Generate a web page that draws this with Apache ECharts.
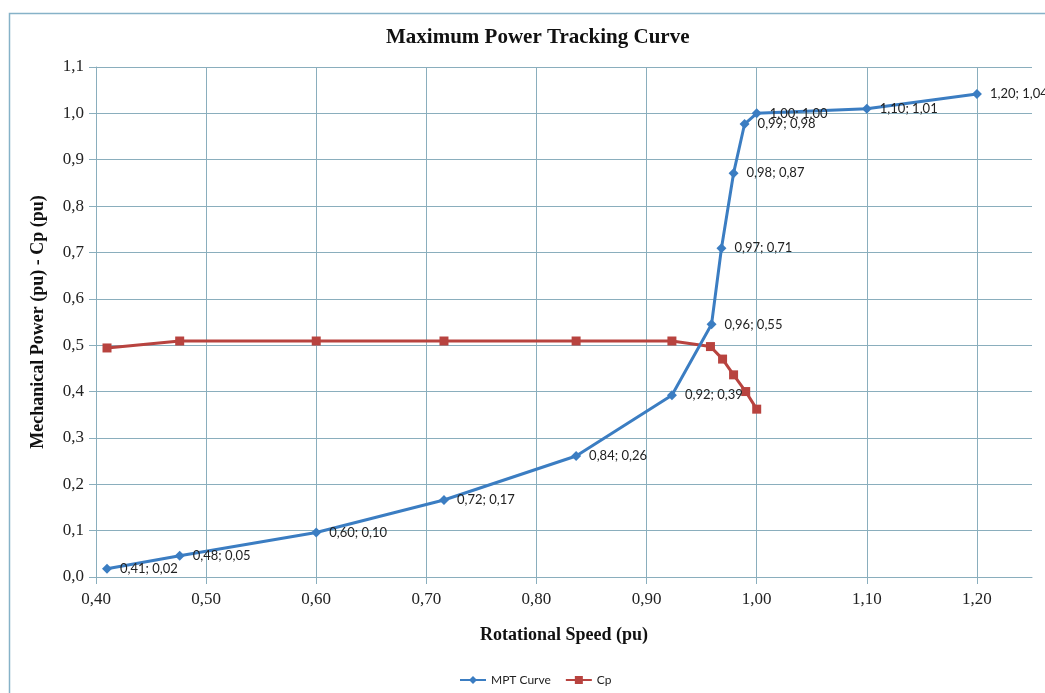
<!DOCTYPE html>
<html>
<head>
<meta charset="utf-8">
<script src="https://cdn.jsdelivr.net/npm/echarts@6/dist/echarts.min.js"></script>
<style>
html,body{margin:0;padding:0;background:#fff;}
#chart{width:1045px;height:693px;}
</style>
</head>
<body>
<div id="chart"></div>
<script>
// Data
const speed = [0.41, 0.476, 0.60, 0.716, 0.836, 0.923, 0.959, 0.968, 0.979, 0.989, 1.00, 1.10, 1.20];
const mptPower = [0.018, 0.046, 0.096, 0.166, 0.261, 0.392, 0.545, 0.709, 0.871, 0.977, 1.00, 1.01, 1.042];
const cpSpeed = [0.41, 0.476, 0.60, 0.716, 0.836, 0.923, 0.958, 0.969, 0.979, 0.990, 1.00];
const cpValues = [0.494, 0.509, 0.509, 0.509, 0.509, 0.509, 0.497, 0.470, 0.436, 0.400, 0.362];
const seriesNames = ['MPT Curve', 'Cp'];
const xTicks = { min: 0.40, max: 1.25, interval: 0.10 };
const yTicks = { min: 0.0, max: 1.1, interval: 0.1 };

const fmt = (v, d) => v.toFixed(d).replace('.', ',');
const mptData = speed.map((x, i) => [x, mptPower[i]]);
const cpData = cpSpeed.map((x, i) => [x, cpValues[i]]);

const gridColor = '#8aaebd';
const serif = '"Liberation Serif", "DejaVu Serif", serif';
const sans = 'Lato, "Open Sans", sans-serif';

const chart = echarts.init(document.getElementById('chart'));
chart.setOption({
  animation: false,
  backgroundColor: '#fff',
  graphic: [{
    type: 'rect', left: 7, top: 11, silent: true, z: -10,
    shape: { width: 1100, height: 720 },
    style: { fill: 'none', stroke: '#86b2c8', lineWidth: 1.5 }
  }],
  title: {
    text: 'Maximum Power Tracking Curve',
    left: 381, top: 22,
    textStyle: { fontFamily: serif, fontWeight: 'bold', fontSize: 21, color: '#111' }
  },
  grid: { left: 96, right: 13, top: 67, bottom: 116 },
  legend: {
    data: seriesNames,
    left: 454, top: 669,
    itemWidth: 26, itemHeight: 10, itemGap: 14,
    textStyle: { fontFamily: sans, fontSize: 12, color: '#222' }
  },
  xAxis: {
    type: 'value',
    min: xTicks.min, max: xTicks.max, interval: xTicks.interval,
    name: 'Rotational Speed (pu)', nameLocation: 'middle', nameGap: 49,
    nameTextStyle: { fontFamily: serif, fontWeight: 'bold', fontSize: 18, color: '#111' },
    axisLine: { show: true, onZero: false, lineStyle: { color: gridColor, width: 1 } },
    axisTick: { show: true, inside: false, length: 7, lineStyle: { color: gridColor } },
    axisLabel: { showMaxLabel: false, margin: 14, fontFamily: serif, fontSize: 17, color: '#222',
      formatter: v => fmt(v, 2) },
    splitLine: { show: true, showMaxLine: false, lineStyle: { color: gridColor, width: 1 } }
  },
  yAxis: {
    type: 'value',
    min: yTicks.min, max: yTicks.max, interval: yTicks.interval,
    name: 'Mechanical Power (pu) - Cp (pu)', nameLocation: 'middle', nameGap: 49,
    nameTextStyle: { fontFamily: serif, fontWeight: 'bold', fontSize: 18, color: '#111' },
    axisLine: { show: true, lineStyle: { color: gridColor, width: 1 } },
    axisTick: { show: true, inside: false, length: 7, lineStyle: { color: gridColor } },
    axisLabel: { margin: 12, fontFamily: serif, fontSize: 17, color: '#222',
      formatter: v => fmt(v, 1) },
    splitLine: { show: true, lineStyle: { color: gridColor, width: 1 } }
  },
  series: [
    {
      name: seriesNames[0], type: 'line', data: mptData,
      symbol: 'diamond', symbolSize: 10, z: 3,
      lineStyle: { color: '#3b7dc2', width: 3 },
      itemStyle: { color: '#3b7dc2' },
      label: {
        show: true, position: 'right', distance: 8,
        fontFamily: sans, fontSize: 13, color: '#222',
        formatter: p => fmt(p.value[0], 2) + '; ' + fmt(p.value[1], 2)
      }
    },
    {
      name: seriesNames[1], type: 'line', data: cpData,
      symbol: 'rect', symbolSize: 9, z: 2,
      lineStyle: { color: '#b8433f', width: 3 },
      itemStyle: { color: '#b8433f' }
    }
  ]
});
</script>
</body>
</html>
